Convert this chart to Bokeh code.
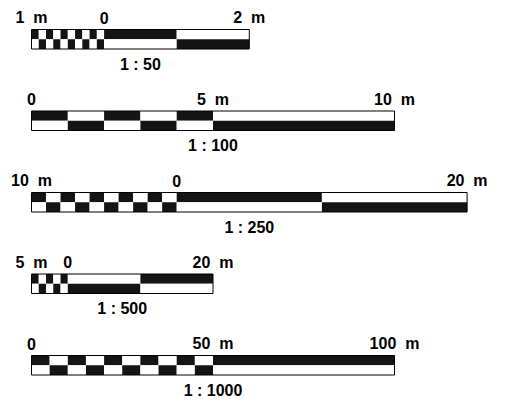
import numpy as np
from bokeh.plotting import figure
from bokeh.models import Range1d
from bokeh.core.properties import value
from bokeh.embed import file_html
from bokeh.resources import INLINE

# ---- data ----
ratios = [50, 100, 250, 500, 1000]
scale_labels = ["1 : 50", "1 : 100", "1 : 250", "1 : 500", "1 : 1000"]
start_m = [-1, 0, -10, -5, 0]          # left end of the bar (metres)
checker_end_m = [0, 5, 0, 0, 50]       # end of the checkered part
cell_m = [0.1, 1, 1, 1, 5]             # checker cell size
end_m = [2, 10, 20, 20, 100]           # right end of the bar
segment_m = [1, 5, 10, 10, 50]         # size of plain segments
tick_m = [[-1, 0, 2], [0, 5, 10], [-10, 0, 20], [-5, 0, 20], [0, 50, 100]]
tick_labels = [["1", "0", "2"], ["0", "5", "10"], ["10", "0", "20"],
               ["5", "0", "20"], ["0", "50", "100"]]

# ---- layout constants ----
W, H = 491, 397
PX_PER_CM = 36.3
LEFT_PX = 31          # left edge of the bars inside the frame
ROW0_TOP = 29
ROW_STEP = 81.5
BAR_H = 19.5
DARK = "#141414"
FONT = value("Liberation Sans")
SP = "\u00a0\u00a0"

p = figure(width=W, height=H, output_backend="svg", toolbar_location=None,
           x_range=Range1d(-LEFT_PX / PX_PER_CM, (W - LEFT_PX) / PX_PER_CM),
           y_range=Range1d(H, 0), min_border=0)
p.axis.visible = False
p.grid.visible = False
p.outline_line_color = None
p.background_fill_color = "white"
p.border_fill_color = "white"

L, R, T, B, C = [], [], [], [], []
ox_l, ox_r, ox_t, ox_b = [], [], [], []
tx, ty, tt = [], [], []
sx, sy, st = [], [], []

for i, ratio in enumerate(ratios):
    def cm(m):
        return (m - start_m[i]) * 100.0 / ratio
    top = ROW0_TOP + i * ROW_STEP
    mid = top + BAR_H / 2
    bot = top + BAR_H
    n_cells = int(round((checker_end_m[i] - start_m[i]) / cell_m[i]))
    bounds = list(np.linspace(start_m[i], checker_end_m[i], n_cells + 1))
    n_seg = int(round((end_m[i] - checker_end_m[i]) / segment_m[i]))
    bounds += list(np.linspace(checker_end_m[i], end_m[i], n_seg + 1))[1:]
    for k in range(len(bounds) - 1):
        a, b = cm(bounds[k]), cm(bounds[k + 1])
        top_dark = (k % 2 == 0)
        L += [a, a]; R += [b, b]
        T += [top, mid]; B += [mid, bot]
        C += [DARK if top_dark else "white", "white" if top_dark else DARK]
    ox_l.append(cm(start_m[i])); ox_r.append(cm(end_m[i]))
    ox_t.append(top); ox_b.append(bot)
    for v, lab in zip(tick_m[i], tick_labels[i]):
        tx.append(cm(v)); ty.append(top - 12)
        tt.append("0" if lab == "0" else lab + SP + "m")
    sx.append((cm(start_m[i]) + cm(end_m[i])) / 2); sy.append(bot + 15)
    st.append(scale_labels[i])

p.quad(left=L, right=R, top=T, bottom=B, fill_color=C, line_color=None)
p.quad(left=ox_l, right=ox_r, top=ox_t, bottom=ox_b, fill_color=None,
       line_color="black", line_width=1)

p.text(x=tx, y=ty, text=tt, text_font=FONT, text_font_style="bold",
       text_font_size="16px", text_align="center", text_baseline="alphabetic",
       text_color="black")
p.text(x=sx, y=sy, text=st, text_font=FONT, text_font_style="bold",
       text_font_size="16px", text_align="center", text_baseline="alphabetic",
       text_color="black")

open("out.html", "w").write(file_html(p, INLINE))
